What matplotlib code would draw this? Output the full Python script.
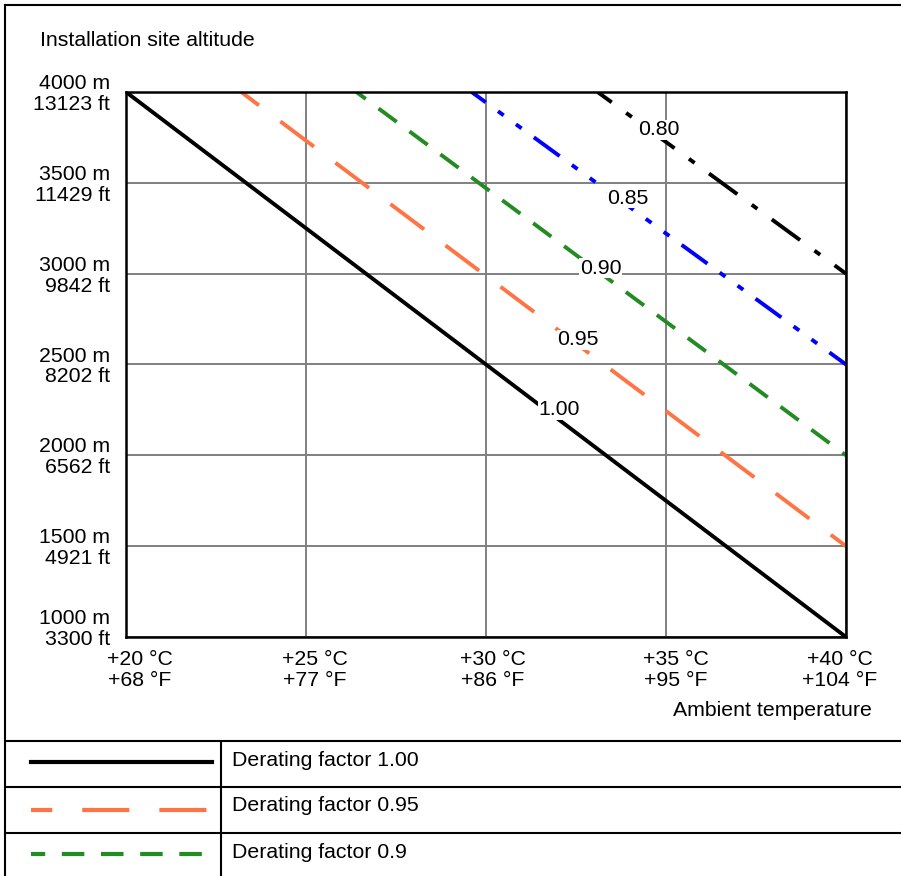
import matplotlib.pyplot as plt
from matplotlib.lines import Line2D

plt.rcParams['font.family'] = ['Liberation Sans', 'DejaVu Sans']
plt.rcParams['font.size'] = 15.3

# ---------------- data ----------------
factors = ['1.00', '0.95', '0.90', '0.85', '0.80']
t_start = [20.0, 23.2, 26.4, 29.6, 33.1]      # deg C at 4000 m
alt_start = [4000, 4000, 4000, 4000, 4000]
t_end = [40, 40, 40, 40, 40]
alt_end = [1000, 1500, 2000, 2500, 3000]

label_t = [32.03, 32.56, 33.19, 33.94, 34.81]
label_alt = [2250, 2635, 3031, 3415, 3791]

temps = [20, 25, 30, 35, 40]
temp_labels = ['+20 °C\n+68 °F', '+25 °C\n+77 °F', '+30 °C\n+86 °F',
               '+35 °C\n+95 °F', '+40 °C\n+104 °F']
alts = [1000, 1500, 2000, 2500, 3000, 3500, 4000]
alt_labels = ['1000 m\n3300 ft', '1500 m\n4921 ft', '2000 m\n6562 ft',
              '2500 m\n8202 ft', '3000 m\n9842 ft', '3500 m\n11429 ft',
              '4000 m\n13123 ft']

legend_text = ['Derating factor 1.00', 'Derating factor 0.95', 'Derating factor 0.9']

# ---------------- styles ----------------
colors = ['black', '#FF7444', '#228B22', '#0000FF', 'black']
styles = ['-',
          (5.1, (10.8, 6.9)),
          (2.8, (5.8, 4.1)),
          (3.7, (8.2, 3.9, 1.8, 3.9, 1.8, 3.9)),
          (4.5, (9.0, 4.6, 1.8, 4.6))]

W, H = 901, 876
fig = plt.figure(figsize=(W / 100, H / 100), dpi=100)


def fx(x):
    return x / W


def fy(y):
    return 1 - y / H


ax = fig.add_axes([fx(126), fy(637), (846 - 126) / W, (637 - 92) / H])
ax.set_xlim(20, 40)
ax.set_ylim(1000, 4000)
ax.set_xticks(temps)
ax.set_yticks(alts)
ax.grid(True, color='#808080', lw=1.4)
ax.set_axisbelow(True)
ax.tick_params(length=0, labelbottom=False, labelleft=False)
for s in ax.spines.values():
    s.set_linewidth(1.8)

for i in range(len(factors)):
    ax.plot([t_start[i], t_end[i]], [alt_start[i], alt_end[i]],
            color=colors[i], lw=2.8, linestyle=styles[i], zorder=2)
    ax.text(label_t[i], label_alt[i], factors[i], ha='center', va='center',
            zorder=4, bbox=dict(facecolor='white', edgecolor='none', pad=0.5))

# tick labels
xshift = [14, 8.5, 7, 10, -6]
for t, lab, dx in zip(temps, temp_labels, xshift):
    ax.annotate(lab, xy=(t, 1000), xytext=(dx, -33), textcoords='offset pixels',
                ha='center', va='center', linespacing=1.12,
                annotation_clip=False)

for a, lab in zip(alts, alt_labels):
    dy = 8 if a == 1000 else -2
    ax.annotate(lab, xy=(20, a), xytext=(-16, dy), textcoords='offset pixels',
                ha='right', va='center', multialignment='right',
                linespacing=1.12, annotation_clip=False)

fig.text(fx(40), fy(45.7), 'Installation site altitude', ha='left', va='baseline')
fig.text(fx(872), fy(716.5), 'Ambient temperature', ha='right', va='baseline')

# ---------------- frame and legend table ----------------
frame_kw = dict(color='black', lw=1.5)
fig.add_artist(Line2D([fx(5), fx(5)], [fy(5), fy(H + 5)], **frame_kw))
fig.add_artist(Line2D([fx(5), fx(W + 5)], [fy(5), fy(5)], **frame_kw))
for yy in [741, 786.7, 833]:
    fig.add_artist(Line2D([fx(5), fx(W + 5)], [fy(yy), fy(yy)], **frame_kw))
fig.add_artist(Line2D([fx(220.7), fx(220.7)], [fy(741), fy(H + 5)], **frame_kw))

legend_y = [761.7, 810, 854.3]
legend_styles = ['-', (6.2, (11.3, 7.2)), (2.0, (5.4, 4.0))]
for i in range(3):
    fig.add_artist(Line2D([fx(31), fx(211.5)], [fy(legend_y[i]), fy(legend_y[i])],
                          color=colors[i], lw=3.0, linestyle=legend_styles[i]))
text_y = [760, 805.5, 852]
for i in range(3):
    fig.text(fx(232), fy(text_y[i]), legend_text[i], ha='left', va='center')

fig.savefig('out.png', dpi=100)
